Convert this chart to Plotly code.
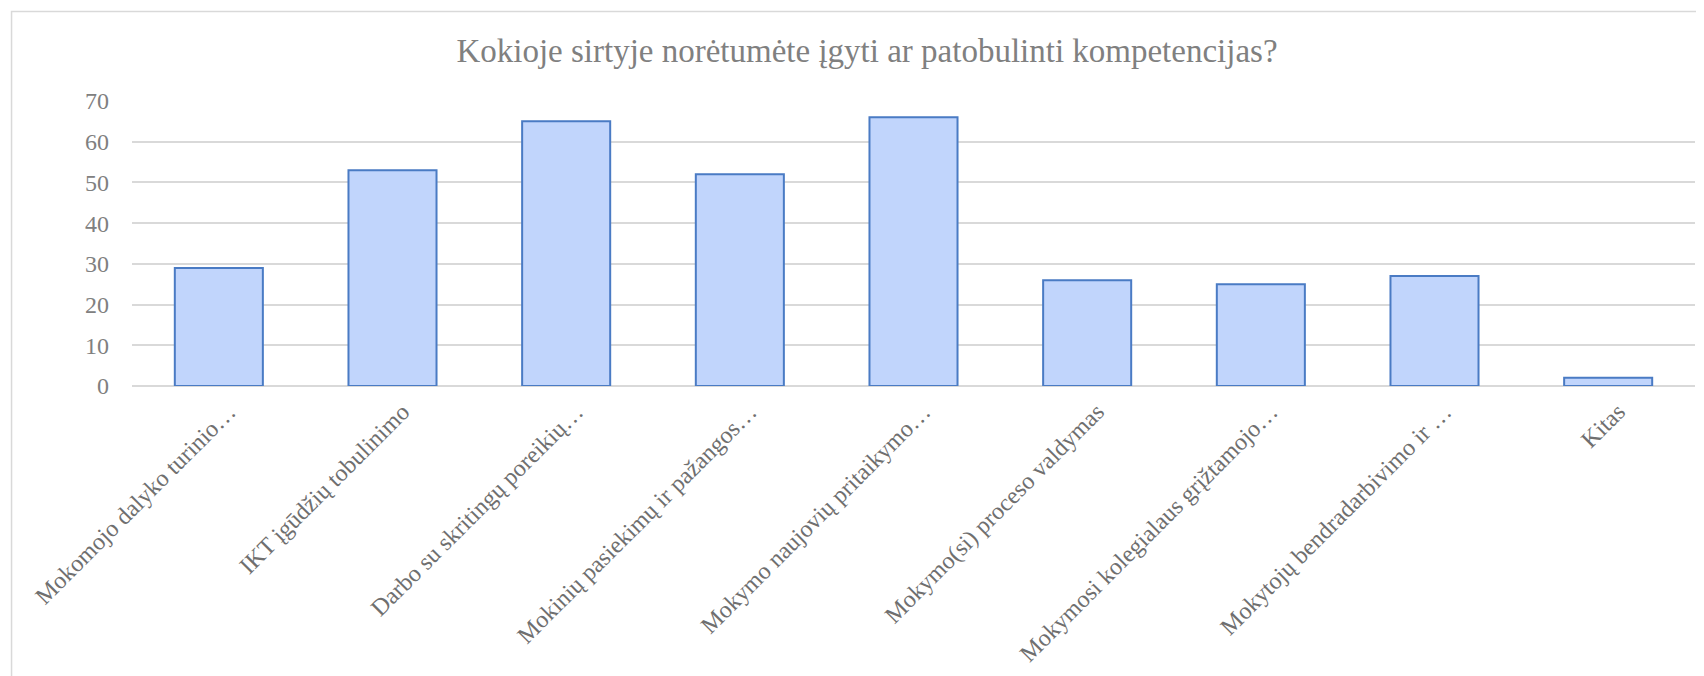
import plotly.graph_objects as go

categories = [
    "Mokomojo dalyko turinio…",
    "IKT įgūdžių tobulinimo",
    "Darbo su skritingų poreikių…",
    "Mokinių pasiekimų ir pažangos…",
    "Mokymo naujovių pritaikymo…",
    "Mokymo(si) proceso valdymas",
    "Mokymosi kolegialaus grįžtamojo…",
    "Mokytojų bendradarbivimo ir …",
    "Kitas",
]
values = [29, 53, 65, 52, 66, 26, 25, 27, 2]
y_ticks = [0, 10, 20, 30, 40, 50, 60, 70]
title_text = "Kokioje sirtyje norėtumėte įgyti ar patobulinti kompetencijas?"

# page body has an 8px default margin, so the figure is laid out in its own coords
W, H = 1696, 668
L, R, T, B = 123.5, 9, 92.7, 289.5
pw = W - L - R
ph = H - T - B

fig = go.Figure()
fig.add_trace(go.Bar(
    x=categories,
    y=values,
    marker=dict(color="#c1d5fc", line=dict(color="#4a7bc4", width=2)),
    width=0.507,
))

fig.update_layout(
    width=W, height=H,
    margin=dict(l=L, r=R, t=T, b=B, autoexpand=False),
    paper_bgcolor="white",
    plot_bgcolor="white",
    showlegend=False,
    title=dict(
        text=title_text,
        font=dict(family="Liberation Serif", size=33, color="#808080"),
        x=859 / W, xanchor="center", xref="container",
        y=1 - 42 / H, yanchor="middle", yref="container",
    ),
    xaxis=dict(
        type="category",
        tickangle=-45,
        tickfont=dict(family="Liberation Serif", size=24, color="#6f6f6f"),
        showgrid=False,
        showline=False,
        ticks="",
        ticklabelstandoff=6,
        ticklabelshift=10,
    ),
    yaxis=dict(
        range=[0, 70],
        tickvals=y_ticks,
        tickfont=dict(family="Liberation Serif", size=24, color="#808080"),
        showgrid=True,
        gridcolor="#d9d9d9",
        gridwidth=1.5,
        zeroline=True,
        zerolinecolor="#d9d9d9",
        zerolinewidth=1.5,
        showline=False,
        ticks="",
        ticklabelstandoff=22,
    ),
    shapes=[dict(
        type="rect", xref="paper", yref="paper",
        x0=(3 - L) / pw, x1=(W + 20 - L) / pw,
        y0=(H - B - (H + 20)) / ph, y1=(H - B - 3) / ph,
        line=dict(color="#d9d9d9", width=1.5),
        fillcolor="rgba(0,0,0,0)",
        layer="below",
    )],
)

fig.write_html("out.html")
